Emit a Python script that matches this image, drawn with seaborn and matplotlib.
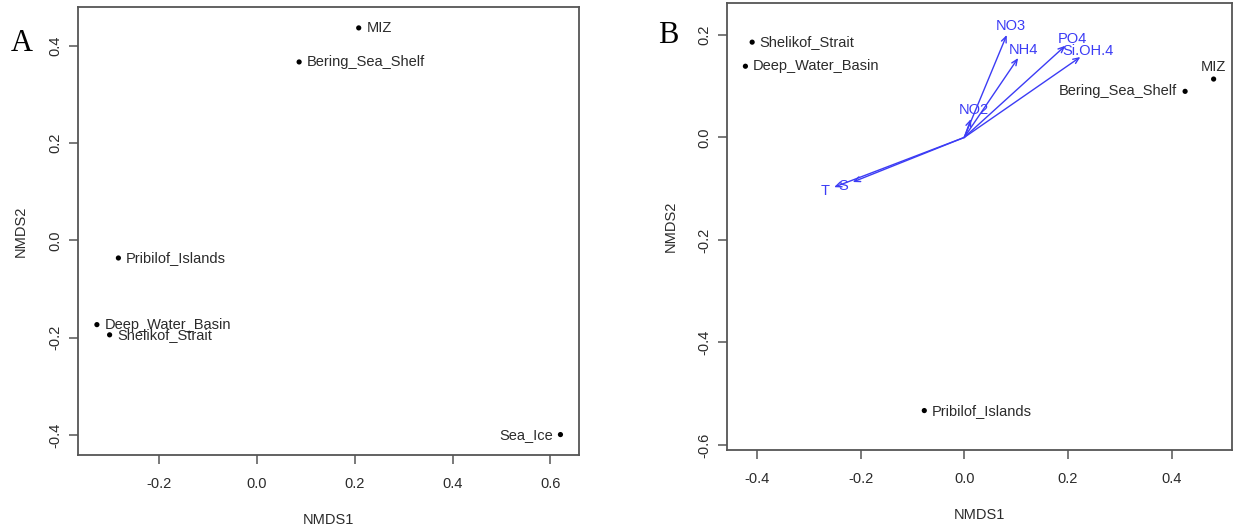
import numpy as np
import pandas as pd
import matplotlib
matplotlib.use("Agg")
import matplotlib.pyplot as plt
import seaborn as sns

# ---------------- data ----------------
# Panel A: NMDS site scores
a_sites = ["MIZ", "Bering_Sea_Shelf", "Pribilof_Islands", "Deep_Water_Basin", "Shelikof_Strait", "Sea_Ice"]
a_nmds1 = [0.208, 0.086, -0.284, -0.328, -0.302, 0.621]
a_nmds2 = [0.437, 0.367, -0.036, -0.173, -0.194, -0.399]
a_pos = ["right", "right", "right", "right", "right", "left"]

# Panel B: NMDS site scores
b_sites = ["Shelikof_Strait", "Deep_Water_Basin", "MIZ", "Bering_Sea_Shelf", "Pribilof_Islands"]
b_nmds1 = [-0.409, -0.422, 0.481, 0.426, -0.077]
b_nmds2 = [0.186, 0.139, 0.114, 0.090, -0.533]
b_pos = ["right", "right", "top", "left", "right"]

# Panel B: environmental vectors (envfit)
env_vars = ["NO3", "NH4", "PO4", "Si.OH.4", "NO2", "T", "S"]
env_x = [0.082, 0.104, 0.195, 0.224, 0.013, -0.251, -0.215]
env_y = [0.200, 0.155, 0.179, 0.157, 0.036, -0.097, -0.087]

a_xticks = [-0.2, 0.0, 0.2, 0.4, 0.6]
a_yticks = [-0.4, -0.2, 0.0, 0.2, 0.4]
b_xticks = [-0.4, -0.2, 0.0, 0.2, 0.4]
b_yticks = [-0.6, -0.4, -0.2, 0.0, 0.2]

# ---------------- style ----------------
sns.set_theme(style="ticks")
plt.rcParams["font.family"] = ["Liberation Sans", "DejaVu Sans"]

TXT = "#2b2b2b"
AX = "#555555"
BLUE = "#3c3cf5"
FS = 10.5

fig = plt.figure(figsize=(12.33, 5.29), dpi=100)
fig.patch.set_facecolor("white")


def style_axes(ax, xticks, yticks, xlim, ylim):
    ax.set_xlim(*xlim)
    ax.set_ylim(*ylim)
    ax.set_xticks(xticks)
    ax.set_yticks(yticks)
    ax.set_xticklabels([f"{t:.1f}" for t in xticks], fontsize=FS, color=TXT)
    ax.set_yticklabels([f"{t:.1f}" for t in yticks], fontsize=FS, color=TXT,
                       rotation=90, va="center")
    for s in ax.spines.values():
        s.set_visible(True)
        s.set_color(AX)
        s.set_linewidth(1.3)
    ax.tick_params(axis="both", direction="out", length=6.5, width=1.1, color=AX)
    ax.tick_params(axis="x", pad=9.5)
    ax.tick_params(axis="y", pad=5)
    ax.set_xlabel("NMDS1", fontsize=FS, color=TXT, labelpad=15.5)
    ax.set_ylabel("NMDS2", fontsize=FS, color=TXT, labelpad=14.5)
    ax.grid(False)


def label_points(ax, xs, ys, names, pos):
    for x, y, n, p in zip(xs, ys, names, pos):
        if p == "right":
            ax.annotate(n, (x, y), xytext=(5.5, 0), textcoords="offset points",
                        ha="left", va="center", fontsize=FS, color=TXT)
        elif p == "left":
            ax.annotate(n, (x, y), xytext=(-5.5, 0), textcoords="offset points",
                        ha="right", va="center", fontsize=FS, color=TXT)
        else:
            ax.annotate(n, (x, y), xytext=(0, 9), textcoords="offset points",
                        ha="center", va="center", fontsize=FS, color=TXT)


# ---------------- panel A ----------------
axA = fig.add_axes([0.0633, 0.1399, 0.4059, 0.8469])
dfA = pd.DataFrame({"NMDS1": a_nmds1, "NMDS2": a_nmds2, "site": a_sites})
sns.scatterplot(data=dfA, x="NMDS1", y="NMDS2", ax=axA, color="black", s=14,
                edgecolor="none", legend=False)
style_axes(axA, a_xticks, a_yticks, (-0.3666, 0.658), (-0.441, 0.48))
label_points(axA, a_nmds1, a_nmds2, a_sites, a_pos)
fig.text(0.0178, 0.9035, "A", fontsize=22, family="Liberation Serif", color="black",
         ha="center", va="baseline")

# ---------------- panel B ----------------
axB = fig.add_axes([0.590, 0.1493, 0.409, 0.8456])
dfB = pd.DataFrame({"NMDS1": b_nmds1, "NMDS2": b_nmds2, "site": b_sites})
sns.scatterplot(data=dfB, x="NMDS1", y="NMDS2", ax=axB, color="black", s=14,
                edgecolor="none", legend=False)
style_axes(axB, b_xticks, b_yticks, (-0.4566, 0.516), (-0.61, 0.263))
label_points(axB, b_nmds1, b_nmds2, b_sites, b_pos)
fig.text(0.5418, 0.9187, "B", fontsize=22, family="Liberation Serif", color="black",
         ha="center", va="baseline")

# arrows
for vx, vy in zip(env_x, env_y):
    axB.annotate("", xy=(vx, vy), xytext=(0, 0),
                 arrowprops=dict(arrowstyle="->,head_length=0.35,head_width=0.15",
                                 color=BLUE, lw=1.0, shrinkA=0, shrinkB=0))

fig.canvas.draw()
for name, vx, vy in zip(env_vars, env_x, env_y):
    p0 = axB.transData.transform((0, 0))
    p1 = axB.transData.transform((vx, vy))
    d = p1 - p0
    u = d / np.hypot(*d)
    off = 7.0
    axB.annotate(name, (vx, vy), xytext=(u[0] * off, u[1] * off),
                 textcoords="offset points", ha="center", va="center",
                 fontsize=FS, color=BLUE)

fig.savefig("out.png", dpi=100, facecolor="white")
